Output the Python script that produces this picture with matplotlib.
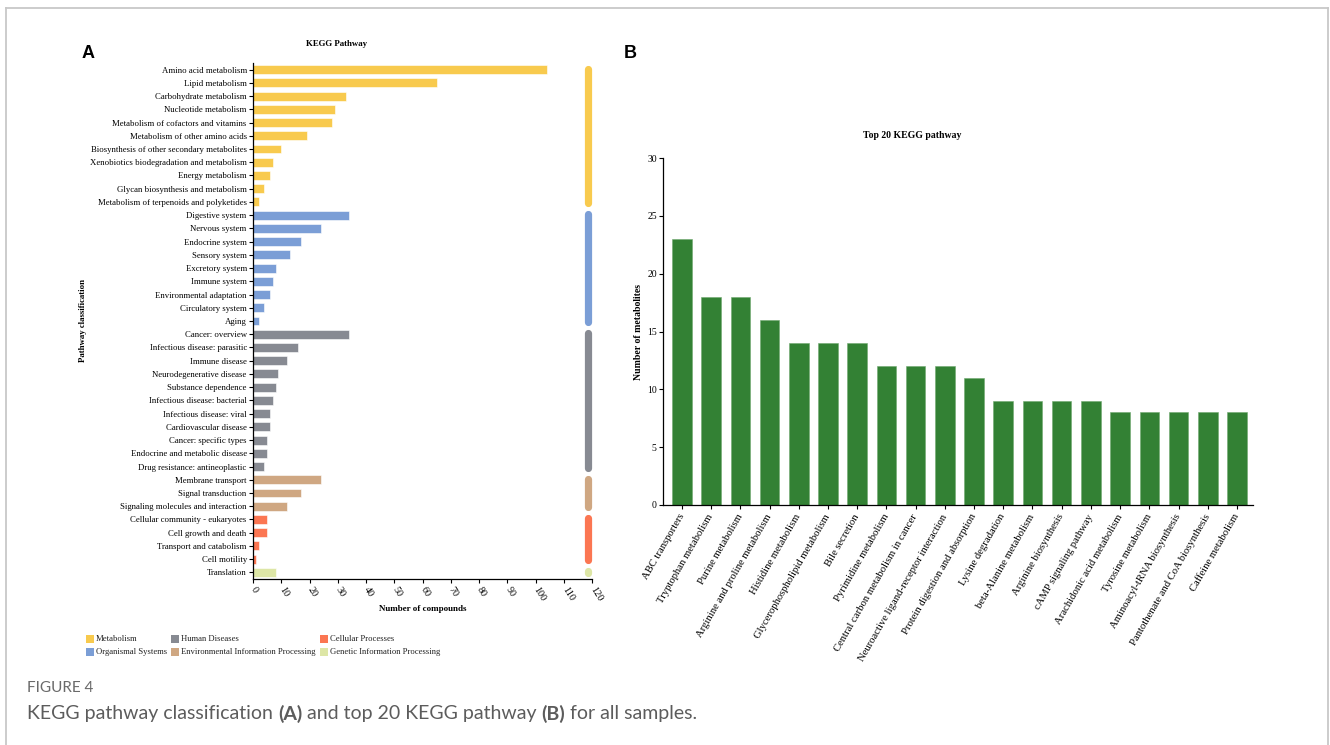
import numpy as np
import matplotlib
matplotlib.use("Agg")
import matplotlib.pyplot as plt
from matplotlib.lines import Line2D
from matplotlib.patches import Rectangle

# KEGG pathway classification (panel A)
pathways = [
    "Amino acid metabolism", "Lipid metabolism", "Carbohydrate metabolism",
    "Nucleotide metabolism", "Metabolism of cofactors and vitamins",
    "Metabolism of other amino acids", "Biosynthesis of other secondary metabolites",
    "Xenobiotics biodegradation and metabolism", "Energy metabolism",
    "Glycan biosynthesis and metabolism", "Metabolism of terpenoids and polyketides",
    "Digestive system", "Nervous system", "Endocrine system", "Sensory system",
    "Excretory system", "Immune system", "Environmental adaptation",
    "Circulatory system", "Aging",
    "Cancer: overview", "Infectious disease: parasitic", "Immune disease",
    "Neurodegenerative disease", "Substance dependence",
    "Infectious disease: bacterial", "Infectious disease: viral",
    "Cardiovascular disease", "Cancer: specific types",
    "Endocrine and metabolic disease", "Drug resistance: antineoplastic",
    "Membrane transport", "Signal transduction", "Signaling molecules and interaction",
    "Cellular community - eukaryotes", "Cell growth and death",
    "Transport and catabolism", "Cell motility",
    "Translation",
]
compounds = [104, 65, 33, 29, 28, 19, 10, 7, 6, 4, 2,
             34, 24, 17, 13, 8, 7, 6, 4, 2,
             34, 16, 12, 9, 8, 7, 6, 6, 5, 5, 4,
             24, 17, 12,
             5, 5, 2, 1,
             8]
group_names = ["Metabolism", "Organismal Systems", "Human Diseases",
               "Environmental Information Processing", "Cellular Processes",
               "Genetic Information Processing"]
group_sizes = [11, 9, 11, 3, 4, 1]
group_colors = ["#F8CA4E", "#7B9ED6", "#878A92", "#CFA782", "#FB7652", "#DDE6A6"]

# Top 20 KEGG pathways (panel B)
top_pathways = [
    "ABC transporters", "Tryptophan metabolism", "Purine metabolism",
    "Arginine and proline metabolism", "Histidine metabolism",
    "Glycerophospholipid metabolism", "Bile secretion", "Pyrimidine metabolism",
    "Central carbon metabolism in cancer", "Neuroactive ligand-receptor interaction",
    "Protein digestion and absorption", "Lysine degradation",
    "beta-Alanine metabolism", "Arginine biosynthesis", "cAMP signaling pathway",
    "Arachidonic acid metabolism", "Tyrosine metabolism",
    "Aminoacyl-tRNA biosynthesis", "Pantothenate and CoA biosynthesis",
    "Caffeine metabolism",
]
metabolites = [23, 18, 18, 16, 14, 14, 14, 12, 12, 12, 11, 9, 9, 9, 9, 8, 8, 8, 8, 8]

W, H = 1330, 745
serif = "Liberation Serif"
plt.rcParams["font.family"] = serif


def fx(x):
    return x / W


def fy(y):
    return 1 - y / H


fig = plt.figure(figsize=(W / 100, H / 100), dpi=100)

# frame around the figure block
for xs, ys in [((6, 6), (8, H + 5)), ((6, 1328), (8, 8)), ((1328, 1328), (8, H + 5))]:
    fig.add_artist(Line2D([fx(v) for v in xs], [fy(v) for v in ys],
                          color="#c8c8c8", lw=1.3))

# ---- panel A ----
bar_colors = []
for c, n in zip(group_colors, group_sizes):
    bar_colors += [c] * n

axA = fig.add_axes([fx(253), fy(579), fx(592) - fx(253), (579 - 63) / H])
ypos = np.arange(len(pathways))
axA.barh(ypos, compounds, height=0.68, color=bar_colors,
         edgecolor="white", linewidth=0.4)
axA.set_ylim(len(pathways) - 0.5, -0.5)
axA.set_xlim(0, 120)
axA.set_yticks(ypos)
axA.set_yticklabels(pathways, fontsize=6.3)
axA.set_xticks(np.arange(0, 121, 10))
axA.set_xticklabels([str(v) for v in range(0, 121, 10)], fontsize=7.3,
                    rotation=-58, ha="left", va="center", rotation_mode="anchor")
axA.tick_params(axis="y", length=3, width=0.8, pad=1.5)
axA.tick_params(axis="x", length=3, width=0.8, pad=3)
for s in ["top", "right"]:
    axA.spines[s].set_visible(False)
for s in ["left", "bottom"]:
    axA.spines[s].set_linewidth(0.9)
axA.set_xlabel("Number of compounds", fontsize=6.5, fontweight="bold", labelpad=2)

# group indicator pills along the right edge
start = 0
for c, n in zip(group_colors, group_sizes):
    axA.plot([118.5, 118.5], [start - 0.08, start + n - 1 + 0.08], color=c,
             lw=5.2, solid_capstyle="round", clip_on=False)
    start += n

fig.text(fx(337), fy(44), "KEGG Pathway", fontsize=6.3, fontweight="bold",
         ha="center", va="center")
fig.text(fx(83), fy(320), "Pathway classification", fontsize=6.3,
         fontweight="bold", rotation=90, ha="center", va="center")

# legend
leg_cols = [86, 171, 320]
for i, (name, c) in enumerate(zip(group_names, group_colors)):
    col = i // 2
    row = i % 2
    x0 = leg_cols[col]
    y0 = 635 + row * 13
    fig.add_artist(Rectangle((fx(x0), fy(y0 + 8)), 8 / W, 8 / H,
                             facecolor=c, edgecolor="none"))
    fig.text(fx(x0 + 10), fy(y0 + 4), name, fontsize=6.2, ha="left", va="center",
             color="#222222")

# ---- panel B ----
axB = fig.add_axes([fx(663), fy(505), fx(1253) - fx(663), (505 - 158) / H])
xpos = np.arange(len(top_pathways))
axB.bar(xpos, metabolites, width=0.67, color="#338134",
        edgecolor="#6fa86f", linewidth=0.4)
axB.set_xlim(-0.65, len(top_pathways) - 0.45)
axB.set_ylim(0, 30)
axB.set_yticks(range(0, 31, 5))
axB.set_yticklabels([str(v) for v in range(0, 31, 5)], fontsize=7)
axB.set_xticks(xpos)
axB.set_xticklabels(top_pathways, fontsize=7.7, rotation=60, ha="right",
                    va="center", rotation_mode="anchor")
axB.tick_params(axis="y", length=3, width=0.8, pad=1.5)
axB.tick_params(axis="x", length=3, width=0.8, pad=4)
for s in ["top", "right"]:
    axB.spines[s].set_visible(False)
for s in ["left", "bottom"]:
    axB.spines[s].set_linewidth(0.9)
axB.set_ylabel("Number of metabolites", fontsize=7, fontweight="bold", labelpad=3)
fig.text(fx(912), fy(135), "Top 20 KEGG pathway", fontsize=7, fontweight="bold",
         ha="center", va="center")

# panel letters
fig.text(fx(88), fy(53), "A", fontsize=13, fontweight="bold",
         family="Liberation Sans", ha="center", va="center")
fig.text(fx(630), fy(53), "B", fontsize=13, fontweight="bold",
         family="Liberation Sans", ha="center", va="center")

# caption
fig.text(fx(27), fy(688), "FIGURE 4", fontsize=11, family="Lato",
         color="#6a6a6a", ha="left", va="center")
parts = [("KEGG pathway classification ", "normal"), ("(A)", "bold"),
         (" and top 20 KEGG pathway ", "normal"), ("(B)", "bold"),
         (" for all samples.", "normal")]
renderer = fig.canvas.get_renderer()
x = fx(27)
for txt, wt in parts:
    t = fig.text(x, fy(714), txt, fontsize=14, family="Lato", fontweight=wt,
                 color="#5c5c5c", ha="left", va="center")
    bb = t.get_window_extent(renderer=renderer)
    x += bb.width / W

fig.savefig("out.png", dpi=100)
